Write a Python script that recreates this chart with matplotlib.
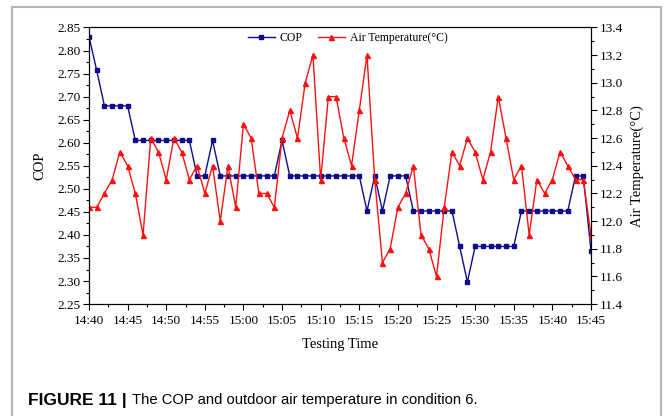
import numpy as np
import matplotlib
matplotlib.use('Agg')
import matplotlib.pyplot as plt
from matplotlib.patches import Rectangle
from matplotlib.ticker import MultipleLocator, FormatStrFormatter

# minutes after 14:40, one reading per minute
minutes = list(range(66))
tick_labels = ['14:40', '14:45', '14:50', '14:55', '15:00', '15:05', '15:10',
               '15:15', '15:20', '15:25', '15:30', '15:35', '15:40', '15:45']

cop = [2.83, 2.757, 2.68, 2.68, 2.68, 2.68, 2.605, 2.605, 2.605, 2.605,
       2.605, 2.605, 2.605, 2.605, 2.528, 2.528, 2.605, 2.528, 2.528, 2.528,
       2.528, 2.528, 2.528, 2.528, 2.528, 2.605, 2.528, 2.528, 2.528, 2.528,
       2.528, 2.528, 2.528, 2.528, 2.528, 2.528, 2.452, 2.528, 2.452, 2.528,
       2.528, 2.528, 2.452, 2.452, 2.452, 2.452, 2.452, 2.452, 2.375, 2.298,
       2.375, 2.375, 2.375, 2.375, 2.375, 2.375, 2.452, 2.452, 2.452, 2.452,
       2.452, 2.452, 2.452, 2.528, 2.528, 2.366]

air_temp = [12.1, 12.1, 12.2, 12.3, 12.5, 12.4, 12.2, 11.9, 12.6, 12.5,
            12.3, 12.6, 12.5, 12.3, 12.4, 12.2, 12.4, 12.0, 12.4, 12.1,
            12.7, 12.6, 12.2, 12.2, 12.1, 12.6, 12.8, 12.6, 13.0, 13.2,
            12.3, 12.9, 12.9, 12.6, 12.4, 12.8, 13.2, 12.3, 11.7, 11.8,
            12.1, 12.2, 12.4, 11.9, 11.8, 11.6, 12.1, 12.5, 12.4, 12.6,
            12.5, 12.3, 12.5, 12.9, 12.6, 12.3, 12.4, 11.9, 12.3, 12.2,
            12.3, 12.5, 12.4, 12.3, 12.3, 11.9]

plt.rcParams['font.family'] = ['Liberation Serif', 'DejaVu Serif']
sans = ['Liberation Sans', 'DejaVu Sans']

fig = plt.figure(figsize=(6.64, 4.16), dpi=100)
ax = fig.add_axes([0.134, 0.269, 0.756, 0.665])
ax2 = ax.twinx()

l1, = ax.plot(minutes, cop, '-', color='#0d0d8a', lw=1.0, marker='s', ms=3.2, label='COP')
l2, = ax2.plot(minutes, air_temp, '-', color='#ff1010', lw=1.0, marker='^', ms=3.6,
               label='Air Temperature(°C)')

ax.set_xlim(0, 65)
ax.set_ylim(2.25, 2.85)
ax2.set_ylim(11.4, 13.4)
ax.set_xticks(np.arange(0, 66, 5))
ax.set_xticklabels(tick_labels)
ax.xaxis.set_minor_locator(MultipleLocator(2.5))
ax.yaxis.set_major_locator(MultipleLocator(0.05))
ax.yaxis.set_minor_locator(MultipleLocator(0.025))
ax2.yaxis.set_major_locator(MultipleLocator(0.2))
ax2.yaxis.set_minor_locator(MultipleLocator(0.1))
ax.yaxis.set_major_formatter(FormatStrFormatter('%.2f'))
ax2.yaxis.set_major_formatter(FormatStrFormatter('%.1f'))

for a in (ax, ax2):
    a.tick_params(which='major', direction='out', length=4, width=0.8, labelsize=9.5, pad=2)
    a.tick_params(which='minor', direction='out', length=2, width=0.8)
    for s in a.spines.values():
        s.set_linewidth(0.8)
ax.tick_params(axis='x', which='major', pad=4)

ax.set_xlabel('Testing Time', fontsize=10.5, labelpad=8)
ax.set_ylabel('COP', fontsize=10.5, labelpad=8)
ax2.set_ylabel('Air Temperature(°C)', fontsize=10.5, labelpad=6)

ax.legend([l1, l2], ['COP', 'Air Temperature(°C)'], loc='upper center', ncol=2,
          frameon=False, fontsize=8.5, handlelength=2.3, columnspacing=1.3,
          handletextpad=0.4, borderaxespad=0.0, bbox_to_anchor=(0.515, 1.0))

# gray frame around the figure panel
fig.patches.append(Rectangle((12 / 664, -0.05), 649 / 664, 1.05 - 7 / 416,
                             transform=fig.transFigure, fill=False,
                             edgecolor='#b5b5b5', lw=1.5))

t1 = fig.text(28 / 664, 0.038, 'FIGURE 11 |', family=sans,
              fontweight='bold', fontsize=12.5, va='center')
fig.canvas.draw()
bb = t1.get_window_extent()
fig.text((bb.x1 + 5) / 664, 0.038, 'The COP and outdoor air temperature in condition 6.',
         family=sans, fontsize=10.6, va='center')

fig.savefig('out.png', dpi=100)
